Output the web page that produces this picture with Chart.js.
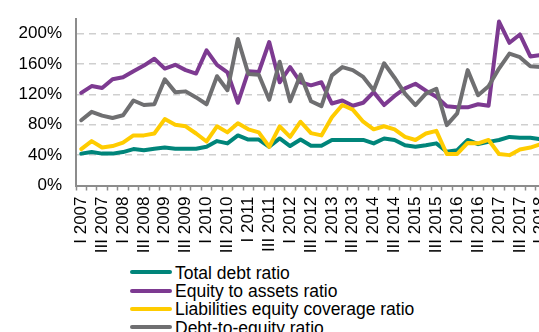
<!DOCTYPE html>
<html>
<head>
<title>Debt ratios</title>
<script src="https://cdn.jsdelivr.net/npm/chart.js@4.4.1/dist/chart.umd.min.js"></script>
<style>
  html, body { margin: 0; padding: 0; background: #fff; overflow: hidden; }
  body { width: 539px; height: 332px; position: relative; }
  #box { position: absolute; left: 0; top: 0; }
  #legend {
    position: absolute; left: 130px; top: 263.5px;
    font-family: "Liberation Sans", Arial, sans-serif; font-size: 17.5px;
    line-height: 18.4px; color: #000; white-space: nowrap;
  }
  #legend .row { display: flex; align-items: center; height: 18.4px; }
  #legend .swatch { width: 42px; height: 4px; border-radius: 2px; margin-right: 3px; margin-top: -1px; }
</style>
</head>
<body>
<div id="box"><canvas id="myChart" width="550" height="260"></canvas></div>
<div id="legend"></div>

<script>
// quarters, I 2007 .. I 2018
var categories = [
  'I 2007','II 2007','III 2007','IV 2007',
  'I 2008','II 2008','III 2008','IV 2008',
  'I 2009','II 2009','III 2009','IV 2009',
  'I 2010','II 2010','III 2010','IV 2010',
  'I 2011','II 2011','III 2011','IV 2011',
  'I 2012','II 2012','III 2012','IV 2012',
  'I 2013','II 2013','III 2013','IV 2013',
  'I 2014','II 2014','III 2014','IV 2014',
  'I 2015','II 2015','III 2015','IV 2015',
  'I 2016','II 2016','III 2016','IV 2016',
  'I 2017','II 2017','III 2017','IV 2017',
  'I 2018'
];

var totalDebt = [42, 44, 42, 42, 44, 48, 46.5, 48.5, 50, 48.5, 48.5, 48.5,
  51, 58.5, 55.5, 66, 60.5, 60.5, 51, 62, 52, 60.5, 52.5, 52.5,
  60, 60, 60, 60, 55.5, 62, 60, 53, 51, 53, 55.5, 44.5,
  46.5, 60, 54.5, 57.5, 60, 64, 63, 63, 61];

var equityToAssets = [122, 131, 128.5, 140, 142.5, 150.5, 158, 167, 154, 159, 152, 147.5,
  178, 159, 149, 109, 150.5, 149.5, 189, 136, 156, 136, 132, 136,
  108, 112, 105, 109, 123, 106, 118, 128, 134, 125, 117, 104.5,
  103, 103, 107, 105, 216, 188, 199, 170, 172];

var liabCoverage = [48, 58.5, 50, 52, 56.5, 66, 66, 68.5, 87.5, 80, 78, 68.5,
  58, 78, 70, 82, 74, 70, 51, 78, 64, 84, 69, 66,
  90, 106, 100, 84, 74, 78, 74, 64, 60, 68.5, 72, 41.5,
  41.5, 56, 55.5, 60, 41.5, 40, 47.5, 50, 54.5];

var debtToEquity = [86, 97, 92, 89, 92.5, 112, 106, 107, 140, 123, 124, 116,
  107, 144, 125.5, 193, 147, 146, 113, 163, 111, 146, 111, 104.5,
  145, 156, 152, 143, 125.5, 161, 142, 121, 106, 121, 127.5, 79.5,
  95, 152, 119, 130.7, 154, 173.7, 169, 157, 156];

var yTicks = [0, 40, 80, 120, 160, 200];

Chart.defaults.font.family = '"Liberation Sans", Arial, sans-serif';
Chart.defaults.font.size = 17;
Chart.defaults.color = '#000';

function line(label, data, color, order) {
  return {
    label: label, data: data, borderColor: color, backgroundColor: color,
    borderWidth: 4, pointRadius: 0, tension: 0, fill: false,
    borderCapStyle: 'round', borderJoinStyle: 'round', order: order
  };
}

var chart = new Chart(document.getElementById('myChart'), {
  type: 'line',
  data: {
    labels: categories,
    datasets: [
      line('Total debt ratio', totalDebt, '#00857a', 3),
      line('Equity to assets ratio', equityToAssets, '#7d3a91', 2),
      line('Liabilities equity coverage ratio', liabCoverage, '#ffcc00', 1),
      line('Debt-to-equity ratio', debtToEquity, '#6f6f71', 0)
    ]
  },
  options: {
    responsive: false,
    animation: false,
    layout: { padding: { left: 0, top: 18.5, right: 4, bottom: 0 } },
    plugins: { legend: { display: false }, tooltip: { enabled: false } },
    scales: {
      x: {
        offset: true,
        grid: { offset: true, drawOnChartArea: false, drawTicks: true, tickLength: 5, color: '#8c8c8c', tickWidth: 1.5 },
        border: { color: '#8c8c8c', width: 2 },
        ticks: {
          autoSkip: false, minRotation: 90, maxRotation: 90, padding: 6, color: '#000',
          callback: function (v, i) { return i % 2 === 0 ? this.getLabelForValue(v) : ''; }
        },
        afterFit: function (s) { s.height = 74.5; s.paddingLeft = 0; s.paddingRight = 0; }
      },
      y: {
        min: 0, max: 220,
        grid: { color: '#cfcfcf', lineWidth: 1.5, drawTicks: false },
        border: { color: '#8c8c8c', width: 2, dash: [7, 5] },
        ticks: { padding: 14, color: '#000', callback: function (v) { return v + '%'; } },
        afterBuildTicks: function (s) { s.ticks = yTicks.map(function (v) { return { value: v }; }); },
        afterFit: function (s) { s.width = 76; s.paddingTop = 0; s.paddingBottom = 0; }
      }
    }
  }
});

// legend under the chart, one entry per row
var legend = document.getElementById('legend');
chart.data.datasets.forEach(function (ds) {
  var row = document.createElement('div');
  row.className = 'row';
  var sw = document.createElement('span');
  sw.className = 'swatch';
  sw.style.background = ds.borderColor;
  var txt = document.createElement('span');
  txt.textContent = ds.label;
  row.appendChild(sw);
  row.appendChild(txt);
  legend.appendChild(row);
});
</script>
</body>
</html>
